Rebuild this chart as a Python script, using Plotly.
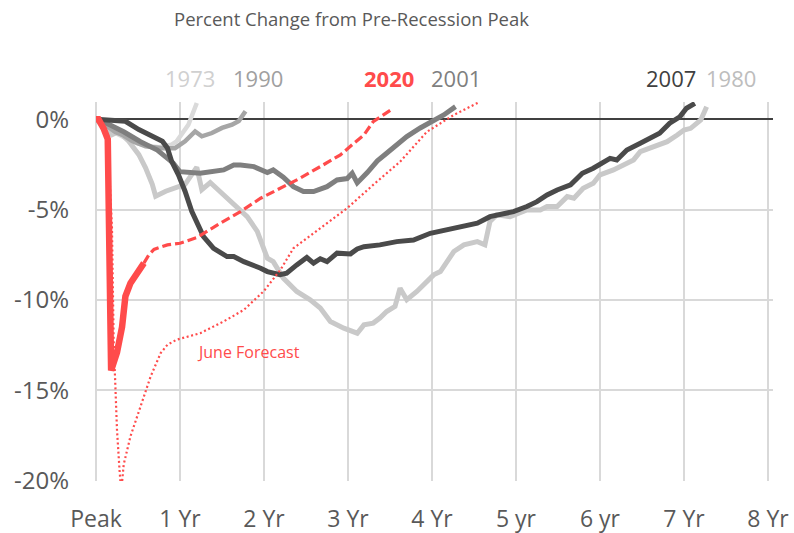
import plotly.graph_objects as go

# ---------------- data (years from peak, % change) ----------------
x_1973 = [0, 0.08, 0.17, 0.25, 0.33, 0.42, 0.5, 0.58, 0.67, 0.75, 0.83, 0.9, 0.96, 1.02, 1.1, 1.2]
y_1973 = [0, -0.3, -0.6, -0.8, -1.0, -1.2, -1.35, -1.45, -1.5, -1.55, -1.5, -1.4, -1.22, -0.85, -0.3, 0.9]

x_1980 = [0, 0.08, 0.19, 0.27, 0.39, 0.51, 0.59, 0.67, 0.71, 0.83, 0.94, 1.06, 1.2, 1.26, 1.36,
          1.5, 1.66, 1.8, 1.92, 2.04, 2.11, 2.23, 2.39, 2.55, 2.67, 2.79, 2.95, 3.11, 3.19, 3.3,
          3.38, 3.46, 3.56, 3.62, 3.7, 3.82, 4.02, 4.1, 4.26, 4.38, 4.54, 4.63, 4.69, 4.77, 4.93,
          5.13, 5.29, 5.37, 5.49, 5.61, 5.69, 5.8, 5.92, 6.0, 6.16, 6.32, 6.4, 6.48, 6.64, 6.8,
          6.92, 7.0, 7.08, 7.2, 7.27]
y_1980 = [0, -0.4, -0.85, -0.67, -1.22, -1.96, -2.69, -3.6, -4.26, -3.98, -3.8, -3.6, -2.65, -3.9, -3.5,
          -4.1, -4.72, -5.39, -6.2, -7.69, -7.88, -8.79, -9.53, -9.99, -10.45, -11.19, -11.56, -11.84, -11.38, -11.28,
          -11.0, -10.64, -10.36, -9.35, -9.99, -9.53, -8.61, -8.43, -7.32, -6.95, -6.77, -6.95, -5.66, -5.29, -5.39,
          -5.02, -5.02, -4.83, -4.83, -4.28, -4.37, -3.82, -3.54, -3.08, -2.8, -2.43, -2.25, -1.79, -1.52, -1.24,
          -0.87, -0.59, -0.5, -0.04, 0.7]

x_1990 = [0, 0.08, 0.17, 0.23, 0.33, 0.43, 0.51, 0.59, 0.69, 0.79, 0.94, 1.06, 1.18, 1.26, 1.38, 1.5, 1.62, 1.7, 1.78]
y_1990 = [0, -0.2, -0.5, -0.7, -0.9, -1.2, -1.35, -1.5, -1.55, -1.6, -1.6, -1.22, -0.67, -0.94, -0.76, -0.48, -0.3, -0.1, 0.44]

x_2001 = [0, 0.05, 0.21, 0.33, 0.53, 0.73, 0.92, 1.0, 1.24, 1.52, 1.64, 1.72, 1.88, 2.04, 2.11, 2.23,
          2.35, 2.47, 2.59, 2.75, 2.87, 2.99, 3.05, 3.11, 3.23, 3.35, 3.46, 3.58, 3.7, 3.86, 4.02, 4.14, 4.28]
y_2001 = [0, -0.04, -0.41, -0.69, -1.24, -1.7, -2.43, -2.9, -2.99, -2.8, -2.53, -2.53, -2.62, -2.95, -2.8, -3.2,
          -3.73, -4.0, -4.0, -3.73, -3.36, -3.28, -2.99, -3.52, -2.95, -2.3, -1.88, -1.45, -0.96, -0.48, -0.1, 0.24, 0.7]

x_2007 = [0, 0.07, 0.35, 0.51, 0.67, 0.79, 0.85, 0.9, 0.98, 1.06, 1.14, 1.28, 1.4, 1.56, 1.64, 1.76, 1.96,
          2.04, 2.19, 2.27, 2.39, 2.51, 2.59, 2.67, 2.75, 2.87, 3.03, 3.11, 3.19, 3.38, 3.58, 3.78, 3.98,
          4.18, 4.38, 4.54, 4.69, 4.81, 4.97, 5.13, 5.25, 5.37, 5.49, 5.65, 5.79, 5.92, 6.12, 6.2, 6.32,
          6.48, 6.6, 6.71, 6.83, 6.95, 7.03, 7.13]
y_2007 = [0, -0.02, -0.11, -0.57, -0.94, -1.22, -1.59, -2.32, -3.06, -3.98, -5.09, -6.49, -7.14, -7.6, -7.6, -7.88, -8.24,
          -8.43, -8.6, -8.52, -8.06, -7.65, -7.96, -7.72, -7.88, -7.41, -7.45, -7.18, -7.05, -6.95, -6.77, -6.68, -6.31,
          -6.12, -5.9, -5.75, -5.39, -5.29, -5.11, -4.83, -4.56, -4.19, -3.91, -3.63, -2.99, -2.71, -2.16, -2.25, -1.7,
          -1.33, -1.05, -0.77, -0.22, 0.14, 0.61, 0.88]

x_2020 = [0, 0.03, 0.09, 0.14, 0.18, 0.25, 0.31, 0.35, 0.41, 0.49, 0.57]
y_2020 = [0, 0, -0.5, -1.1, -13.9, -12.9, -11.5, -9.8, -9.07, -8.43, -7.96]

x_2020_fcst = [0.57, 0.63, 0.69, 0.85, 1.0, 1.2, 1.48, 1.72, 1.96, 2.19, 2.43, 2.67, 2.91, 3.07, 3.19, 3.3, 3.54]
y_2020_fcst = [-7.96, -7.5, -7.2, -6.95, -6.86, -6.55, -5.75, -5.11, -4.37, -3.82, -3.26, -2.62, -1.97, -1.33, -0.87, -0.13, 0.61]

x_june = [0, 0.08, 0.14, 0.19, 0.21, 0.23, 0.25, 0.28, 0.3, 0.33, 0.41, 0.53, 0.65, 0.77, 0.85, 0.96,
          1.24, 1.52, 1.76, 2.0, 2.2, 2.35, 2.67, 2.99, 3.3, 3.62, 3.94, 4.26, 4.57]
y_june = [0, -0.5, -1.2, -6.0, -12.2, -15.0, -17.2, -19.4, -20.6, -19.1, -17.55, -15.9, -14.24, -12.94, -12.48, -12.2,
          -11.84, -11.19, -10.55, -9.5, -8.3, -7.14, -6.03, -4.92, -3.63, -2.35, -0.69, 0.24, 0.97]

x_tick_vals = [0, 1, 2, 3, 4, 5, 6, 7, 8]
x_tick_text = ["Peak", "1 Yr", "2 Yr", "3 Yr", "4 Yr", "5 yr", "6 yr", "7 Yr", "8 Yr"]
y_tick_vals = [0, -5, -10, -15, -20]
y_tick_text = ["0%", "-5%", "-10%", "-15%", "-20%"]

label_names = ["1973", "1990", "2020", "2001", "2007", "1980"]
label_x = [1.12, 1.93, 3.49, 4.28, 6.84, 7.56]
label_colors = ["#d0d0d0", "#a0a0a0", "#ff4b4b", "#7f7f7f", "#404040", "#bdbdbd"]

FONT = "Open Sans"
RED = "#ff4b4b"

fig = go.Figure()

def add_line(x, y, color, width, dash="solid", name=""):
    fig.add_trace(go.Scatter(x=x, y=y, mode="lines", name=name,
                             line=dict(color=color, width=width, dash=dash),
                             hoverinfo="skip", showlegend=False))

add_line(x_1973, y_1973, "#dadada", 4.5, name="1973")
add_line(x_1980, y_1980, "#c9c9c9", 5, name="1980")
add_line(x_1990, y_1990, "#a6a6a6", 4.5, name="1990")
add_line(x_2001, y_2001, "#7f7f7f", 5, name="2001")
add_line(x_2007, y_2007, "#4a4a4a", 5, name="2007")
add_line(x_june, y_june, RED, 2.2, dash="2px,2.6px", name="June Forecast")
add_line(x_2020_fcst, y_2020_fcst, RED, 3.2, dash="9px,4px", name="2020 forecast")
add_line(x_2020, y_2020, RED, 6.5, name="2020")

annotations = []
for name, xv, col in zip(label_names, label_x, label_colors):
    annotations.append(dict(x=xv, y=1.0633, xref="x", yref="paper", text=name, showarrow=False,
                            xanchor="center", yanchor="middle",
                            font=dict(family=FONT, size=22, color=col,
                                      weight="bold" if name == "2020" else "normal")))
annotations.append(dict(x=1.81, y=-12.87, xref="x", yref="y", text="June Forecast", showarrow=False,
                        xanchor="center", yanchor="middle",
                        font=dict(family=FONT, size=16, color=RED)))
annotations.append(dict(x=0.378, y=1.2216, xref="paper", yref="paper",
                        text="Percent Change from Pre-Recession Peak", showarrow=False,
                        xanchor="center", yanchor="middle",
                        font=dict(family=FONT, size=18.5, color="#595959")))

fig.update_layout(
    width=794, height=533,
    margin=dict(l=96, r=21, t=102, b=52),
    paper_bgcolor="white", plot_bgcolor="white",
    template="none",
    annotations=annotations,
    xaxis=dict(range=[0, 8.06], tickvals=x_tick_vals, ticktext=x_tick_text,
               automargin=False,
               showgrid=True, gridcolor="#d9d9d9", gridwidth=1.5,
               zeroline=True, zerolinecolor="#d9d9d9", zerolinewidth=1.5,
               showline=False, ticks="", ticklabelstandoff=22,
               tickfont=dict(family=FONT, size=23, color="#595959")),
    yaxis=dict(range=[-20.02, 0.957], tickvals=y_tick_vals, ticktext=y_tick_text,
               automargin=False,
               showgrid=True, gridcolor="#d9d9d9", gridwidth=1.5,
               zeroline=True, zerolinecolor="#404040", zerolinewidth=1.5,
               showline=False, ticks="", ticklabelstandoff=26,
               tickfont=dict(family=FONT, size=24, color="#595959")),
)

fig.write_html("out.html",
               config={"displayModeBar": False},
               post_script="document.body.style.margin='0px';document.body.style.overflow='hidden';")
